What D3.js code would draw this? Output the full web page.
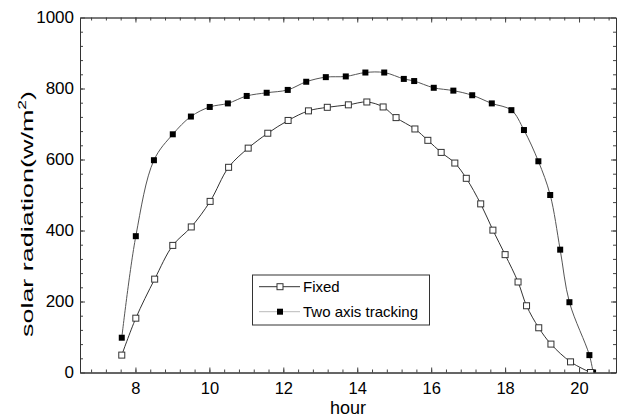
<!DOCTYPE html>
<html>
<head>
<meta charset="utf-8">
<script src="https://cdn.jsdelivr.net/npm/d3@7"></script>
<style>
    body { margin: 0; background: #fff; }
    svg { display: block; font-family: "Liberation Sans", Arial, sans-serif; }
</style>
</head>
<body>
<svg></svg>
<script>
// Hours and radiation.
let fixedHours = [7.63, 8.01, 8.52, 9.01, 9.51, 10.02, 10.52, 11.05, 11.58, 12.13, 12.68, 13.19, 13.76, 14.26, 14.70,
    15.05, 15.56, 15.91, 16.27, 16.64, 16.95, 17.34, 17.67, 18.0, 18.35, 18.58, 18.91, 19.24, 19.77, 20.31];
let fixedValues = [49, 153, 263, 358, 410, 482, 578, 632, 674, 710, 737, 747, 754, 762, 748,
    718, 686, 654, 620, 590, 547, 475, 401, 332, 255, 188, 126, 80, 30, 0];

let trackHours = [7.63, 8.01, 8.50, 9.01, 9.50, 10.01, 10.50, 11.01, 11.55, 12.12, 12.62, 13.15, 13.69, 14.22, 14.73,
    15.26, 15.54, 16.07, 16.60, 17.11, 17.64, 18.17, 18.51, 18.90, 19.22, 19.49, 19.74, 20.28, 20.38];
let trackValues = [98, 384, 598, 671, 721, 748, 758, 779, 788, 796, 819, 832, 834, 845, 845,
    827, 821, 802, 794, 781, 758, 739, 683, 595, 500, 346, 198, 49, 0];

let xTicks = [8, 10, 12, 14, 16, 18, 20];
let yTicks = [0, 200, 400, 600, 800, 1000];
let seriesNames = ["Fixed", "Two axis tracking"];

let margin = { top: 17.5, right: 3, bottom: 45.5, left: 80 },
    width = 619 - margin.left - margin.right,
    height = 418 - margin.top - margin.bottom;

let svg = d3.select("svg")
    .attr("width", width + margin.left + margin.right)
    .attr("height", height + margin.top + margin.bottom);
let g = svg.append("g").attr("transform", "translate(" + margin.left + "," + margin.top + ")");

let x = d3.scaleLinear().domain([6.5, 21]).range([0, width]);
let y = d3.scaleLinear().domain([0, 1000]).range([height, 0]);

// minor ticks every 0.4 h and every 40 units
let xMinor = d3.range(6.8, 21, 0.4).map(function (d) { return +d.toFixed(1); });
let yMinor = d3.range(40, 1000, 40);

svg.append("defs").append("clipPath").attr("id", "plot")
    .append("rect").attr("width", width).attr("height", height);

// frame: top and right mirror axes
g.append("g").attr("class", "axis")
    .call(d3.axisTop(x).tickValues(xMinor).tickSize(-3).tickSizeOuter(0).tickFormat(""))
    .call(function (a) { a.select(".domain").attr("stroke", "#888"); });
g.append("g").attr("class", "axis")
    .call(d3.axisTop(x).tickValues(xTicks).tickSize(-5).tickSizeOuter(0).tickFormat(""));
g.append("g").attr("class", "axis").attr("transform", "translate(" + width + ",0)")
    .call(d3.axisRight(y).tickValues(yMinor).tickSize(-3).tickSizeOuter(0).tickFormat(""));
g.append("g").attr("class", "axis").attr("transform", "translate(" + width + ",0)")
    .call(d3.axisRight(y).tickValues(yTicks).tickSize(-5).tickSizeOuter(0).tickFormat(""));

// bottom and left axes, ticks pointing inward
g.append("g").attr("class", "axis").attr("transform", "translate(0," + height + ")")
    .call(d3.axisBottom(x).tickValues(xMinor).tickSize(-3).tickSizeOuter(0).tickFormat(""));
g.append("g").attr("class", "axis xlab").attr("transform", "translate(0," + height + ")")
    .call(d3.axisBottom(x).tickValues(xTicks).tickSize(-5).tickSizeOuter(0).tickPadding(10));
g.append("g").attr("class", "axis")
    .call(d3.axisLeft(y).tickValues(yMinor).tickSize(-3).tickSizeOuter(0).tickFormat(""));
g.append("g").attr("class", "axis")
    .call(d3.axisLeft(y).tickValues(yTicks).tickSize(-5).tickSizeOuter(0).tickPadding(6).tickFormat(d3.format("d")));

g.selectAll(".axis text").attr("font-size", 17).attr("fill", "#000")
    .style("font-family", "'Liberation Sans', Arial, sans-serif");
g.selectAll(".xlab text").attr("font-size", 16.5);
g.selectAll(".axis .tick line").attr("stroke", "#444");
g.selectAll(".axis .domain").filter(function () { return d3.select(this).attr("stroke") !== "#888"; })
    .attr("stroke", "#333");

// the two series
let fixed = fixedHours.map(function (h, i) { return { h: h, v: fixedValues[i] }; });
let track = trackHours.map(function (h, i) { return { h: h, v: trackValues[i] }; });

let line = d3.line()
    .x(function (d) { return x(d.h); })
    .y(function (d) { return y(d.v); })
    .curve(d3.curveCatmullRom.alpha(0.5));

let plot = g.append("g").attr("clip-path", "url(#plot)");

plot.append("path").datum(track)
    .attr("fill", "none").attr("stroke", "#555").attr("stroke-width", 1)
    .attr("d", line);
plot.append("path").datum(fixed)
    .attr("fill", "none").attr("stroke", "#333").attr("stroke-width", 1)
    .attr("d", line);

plot.selectAll(".track").data(track).enter().append("rect")
    .attr("class", "track")
    .attr("x", function (d) { return x(d.h) - 3; })
    .attr("y", function (d) { return y(d.v) - 3; })
    .attr("width", 6).attr("height", 6)
    .attr("fill", "#000");

plot.selectAll(".fixed").data(fixed).enter().append("rect")
    .attr("class", "fixed")
    .attr("x", function (d) { return x(d.h) - 3; })
    .attr("y", function (d) { return y(d.v) - 3; })
    .attr("width", 6).attr("height", 6)
    .attr("fill", "#fff").attr("stroke", "#333").attr("stroke-width", 1);

// axis titles
svg.append("text")
    .attr("x", margin.left + width / 2)
    .attr("y", 414)
    .attr("text-anchor", "middle")
    .attr("font-size", 18)
    .text("hour");

let yTitle = svg.append("text")
    .attr("transform", "translate(33,214) rotate(-90)")
    .attr("text-anchor", "middle")
    .attr("font-size", 17)
    .attr("textLength", 246)
    .attr("lengthAdjust", "spacingAndGlyphs");
yTitle.append("tspan").text("solar radiation(w/m");
yTitle.append("tspan").attr("font-size", 11).attr("dy", -7).text("2");
yTitle.append("tspan").attr("dy", 7).text(")");

// legend
let legend = svg.append("g").attr("transform", "translate(252.5,275)");
legend.append("rect")
    .attr("width", 177).attr("height", 50)
    .attr("fill", "#fff").attr("stroke", "#333").attr("stroke-width", 1);

let rows = legend.selectAll(".row").data(seriesNames).enter().append("g")
    .attr("class", "row")
    .attr("transform", function (d, i) { return "translate(0," + (11.7 + i * 25) + ")"; });

rows.append("line")
    .attr("x1", 6.5).attr("x2", 47.5)
    .attr("stroke", function (d, i) { return i === 0 ? "#333" : "#bbb"; });
rows.append("rect")
    .attr("x", 24.5).attr("y", -3).attr("width", 6).attr("height", 6)
    .attr("fill", function (d, i) { return i === 0 ? "#fff" : "#000"; })
    .attr("stroke", function (d, i) { return i === 0 ? "#333" : "none"; });
rows.append("text")
    .attr("x", 50.5).attr("dy", "0.36em")
    .attr("font-size", 15)
    .text(function (d) { return d; });
</script>
</body>
</html>
